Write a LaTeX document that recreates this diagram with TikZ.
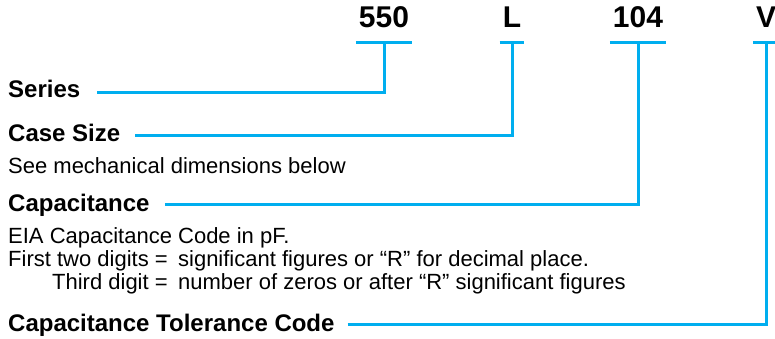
\documentclass[tikz,border=0pt]{standalone}
\usepackage{fontspec}
\setmainfont{Liberation Sans}
\usepackage{tikz}
\usetikzlibrary{positioning,calc}
\definecolor{codeblue}{HTML}{00AEEF}

\begin{document}
\begin{tikzpicture}[x=1pt,y=-1pt,
	code/.style={inner xsep=3pt,inner ysep=0pt,anchor=base,font=\fontsize{30}{32}\selectfont\bfseries},
	head/.style={inner sep=0pt,anchor=base west,font=\fontsize{24}{26}\selectfont\bfseries},
	body/.style={inner sep=0pt,anchor=base west,font=\fontsize{22}{24}\selectfont},
	codeline/.style={draw=codeblue,line width=3pt}]
		\useasboundingbox (0,0) rectangle (775,339);
		% part number codes
		\node[code] (c550) at (384,28) {550};
		\node[code] (cL) at (512,28) {L};
		\node[code] (c104) at (638,28) {104};
		\node[code] (cV) at (766,28) {V};
		% headings and notes
		\node[head] (series) at (8,98) {Series};
		\node[head] (casesize) at (8,142) {Case Size};
		\node[body] (casenote) at (8,173) {See mechanical dimensions below};
		\node[head] (cap) at (8,211) {Capacitance};
		\node[body] (eia) at (8,243) {EIA Capacitance Code in pF.};
		\node[body] (first) at (8,266) {First two digits =};
		\node[body] (firstval) [right=10pt of first.base east,anchor=base west] {significant figures or “R” for decimal place.};
		\node[body,anchor=base east] (third) at ([yshift=-23pt]first.base east) {Third digit =};
		\node[body] (thirdval) [right=10pt of third.base east,anchor=base west] {number of zeros or after “R” significant figures};
		\node[head] (tol) at (8,331) {Capacitance Tolerance Code};
		% brackets under the codes
		\foreach \c in {c550,cL,c104,cV}
			\draw[codeline] ([yshift=-15pt]\c.base west) -- ([yshift=-15pt]\c.base east);
		% leaders from headings up to the codes
		\draw[codeline] ([xshift=17pt,yshift=5pt]series.base east) -| ([yshift=-15pt]c550.base);
		\draw[codeline] ([xshift=15pt,yshift=6pt]casesize.base east) -| ([yshift=-15pt]cL.base);
		\draw[codeline] ([xshift=15pt,yshift=7pt]cap.base east) -| ([yshift=-15pt]c104.base);
		\draw[codeline] ([xshift=13pt,yshift=7pt]tol.base east) -| ([yshift=-15pt]cV.base);
	\end{tikzpicture}
\end{document}
